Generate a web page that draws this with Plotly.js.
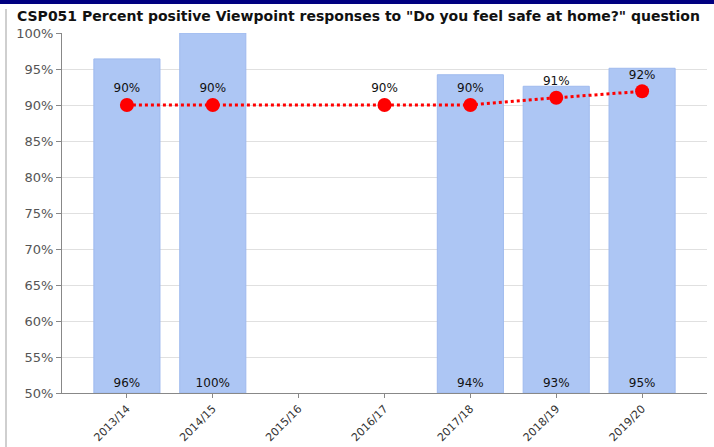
<!DOCTYPE html>
<html>
<head>
<meta charset="utf-8">
<script src="https://cdn.plot.ly/plotly-3.0.1.min.js"></script>
<style>
  html, body { margin: 0; padding: 0; background: #fff; }
  #chart { width: 714px; height: 447px; }
</style>
</head>
<body>
<div id="chart"></div>
<script>
var years = ['2013/14', '2014/15', '2015/16', '2016/17', '2017/18', '2018/19', '2019/20'];
var responses = [96.4, 100, null, null, 94.2, 92.6, 95.1];   // bar values (%)
var target = [90, 90, null, 90, 90, 91, 91.9];                // red line (%)
var yTicks = [50, 55, 60, 65, 70, 75, 80, 85, 90, 95, 100];

var axisBase = 50;

var bar_trace = {
  type: 'bar',
  x: years,
  y: responses.map(v => v === null ? null : v - axisBase),
  base: axisBase,
  width: 0.77,
  marker: { color: '#adc6f4', line: { color: '#9fbaee', width: 1 } },
  text: responses.map(v => v === null ? '' : Math.round(v) + '%'),
  textposition: 'inside',
  insidetextanchor: 'start',
  textangle: 0,
  textfont: { family: 'DejaVu Sans', size: 12, color: '#111' },
  hoverinfo: 'skip',
  showlegend: false
};

var line_trace = {
  type: 'scatter',
  x: years,
  y: target,
  mode: 'lines+markers+text',
  connectgaps: true,
  line: { color: '#ff0000', width: 3, dash: 'dot' },
  marker: { color: '#ff0000', size: 14 },
  text: target.map(v => v === null ? '' : Math.round(v) + '%'),
  textposition: 'top center',
  textfont: { family: 'DejaVu Sans', size: 12, color: '#111' },
  cliponaxis: false,
  showlegend: false
};

var layout = {
  width: 714,
  height: 447,
  margin: { t: 33, l: 62, r: 7, b: 54 },
  paper_bgcolor: '#fff',
  plot_bgcolor: '#fff',
  title: {
    text: 'CSP051 Percent positive Viewpoint responses to "Do you feel safe at home?" question',
    font: { family: 'DejaVu Sans', size: 14, color: '#111', weight: 'bold' },
    x: 17 / 714, xanchor: 'left',
    y: 1 - 16 / 447, yanchor: 'middle'
  },
  xaxis: {
    type: 'category',
    range: [-0.756, 6.756],
    tickangle: -45,
    tickfont: { family: 'DejaVu Sans', size: 11, color: '#333' },
    ticks: 'outside', ticklen: 4, tickcolor: '#888',
    showline: true, linecolor: '#888', linewidth: 1,
    showgrid: false, zeroline: false
  },
  yaxis: {
    range: [50, 100],
    tickvals: yTicks,
    ticktext: yTicks.map(v => v + '%'),
    tickfont: { family: 'DejaVu Sans', size: 13, color: '#555' },
    ticks: 'outside', ticklen: 5, tickcolor: '#888',
    showline: true, linecolor: '#888', linewidth: 1,
    gridcolor: '#e0e0e0', zeroline: false
  },
  shapes: [
    // navy band across the top
    { type: 'rect', xref: 'paper', yref: 'paper', x0: -0.1, x1: 1.02, y0: 1.0806, y1: 1.1, fillcolor: '#000080', line: { width: 0 } },
    // grey frame line on the left
    { type: 'line', xref: 'paper', yref: 'paper', x0: -0.0868, x1: -0.0868, y0: -0.16, y1: 1.067, line: { color: '#cfcfcf', width: 2 } }
  ]
};

Plotly.newPlot('chart', [bar_trace, line_trace], layout, { displayModeBar: false, staticPlot: true });
</script>
</body>
</html>
